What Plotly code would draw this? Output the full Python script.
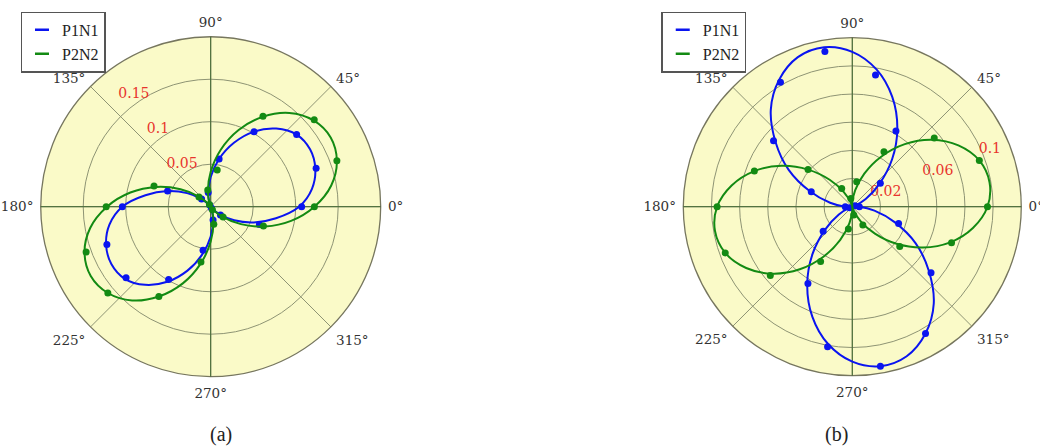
import plotly.graph_objects as go

# Measurement angles (degrees) and fitted-curve sample angles
pt_angles = [0, 20, 40, 60, 80, 100, 120, 140, 160, 180,
             200, 220, 240, 260, 280, 300, 320, 340]
fit_angles = list(range(0, 361, 10))

# Panel (a): measured points
a_p1n1_pts = [0.107, 0.132, 0.132, 0.102, 0.057, 0.017, 0.002, 0.014, 0.054, 0.104,
              0.130, 0.130, 0.099, 0.052, 0.016, 0.002, 0.015, 0.061]
a_p2n2_pts = [0.122, 0.158, 0.159, 0.123, 0.044, 0.020, 0.003, 0.018, 0.071, 0.123,
              0.156, 0.158, 0.122, 0.066, 0.021, 0.004, 0.019, 0.066]

# Panel (a): fitted curves
a_p1n1_fit = [0.104, 0.121, 0.131, 0.135, 0.132, 0.120, 0.102, 0.080, 0.057, 0.035,
              0.016, 0.004, 0.000, 0.003, 0.014, 0.032, 0.054, 0.078,
              0.104, 0.121, 0.131, 0.135, 0.132, 0.120, 0.102, 0.080, 0.057, 0.035,
              0.016, 0.004, 0.000, 0.003, 0.014, 0.032, 0.054, 0.078, 0.104]
a_p2n2_fit = [0.122, 0.144, 0.158, 0.163, 0.158, 0.144, 0.122, 0.096, 0.068, 0.041,
              0.019, 0.005, 0.000, 0.005, 0.019, 0.041, 0.068, 0.096,
              0.122, 0.144, 0.158, 0.163, 0.158, 0.144, 0.122, 0.096, 0.068, 0.041,
              0.019, 0.005, 0.000, 0.005, 0.019, 0.041, 0.068, 0.096, 0.122]

# Panel (b): measured points
b_p1n1_pts = [0.005, 0.002, 0.026, 0.062, 0.095, 0.112, 0.102, 0.073, 0.031, 0.005,
              0.002, 0.027, 0.063, 0.101, 0.115, 0.104, 0.073, 0.035]
b_p2n2_pts = [0.096, 0.096, 0.076, 0.045, 0.018, 0.006, 0.015, 0.041, 0.074, 0.096,
              0.096, 0.076, 0.045, 0.016, 0.006, 0.015, 0.044, 0.075]

# Panel (b): fitted curves
b_p1n1_fit = [0.005, 0.000, 0.002, 0.011, 0.025, 0.044, 0.064, 0.083, 0.099, 0.110,
              0.115, 0.113, 0.104, 0.090, 0.071, 0.052, 0.032, 0.016,
              0.005, 0.000, 0.002, 0.011, 0.025, 0.044, 0.064, 0.083, 0.099, 0.110,
              0.115, 0.113, 0.104, 0.090, 0.071, 0.052, 0.032, 0.016, 0.005]
b_p2n2_fit = [0.096, 0.099, 0.096, 0.087, 0.074, 0.058, 0.041, 0.025, 0.012, 0.003,
              0.000, 0.003, 0.012, 0.025, 0.041, 0.058, 0.074, 0.087,
              0.096, 0.099, 0.096, 0.087, 0.074, 0.058, 0.041, 0.025, 0.012, 0.003,
              0.000, 0.003, 0.012, 0.025, 0.041, 0.058, 0.074, 0.087, 0.096]

# Radial grid rings and their labels
a_rmax = 0.2
a_ticks = [0.05, 0.1, 0.15]
a_ticktext = ["0.05", "0.1", "0.15"]
b_rmax = 0.12
b_ticks = [0.02, 0.04, 0.06, 0.08, 0.1]
b_ticktext = ["0.02", "", "0.06", "", "0.1"]

series_names = ["P1N1", "P2N2"]

BLUE = "#0a14f0"
GREEN = "#138a13"
BG = "#fafac8"
RING = "#8e9474"
AXIS_DARK = "#3f6630"
LABEL_RED = "#e8342c"
SERIF = "DejaVu Serif"
LEG_FONT = "Liberation Serif"

fig = go.Figure()


def add_ring_labels(fig, subplot, ticks, texts, rmax, angle):
    # ring labels sit just outside their ring along a fixed bearing
    pad = rmax * 0.048
    fig.add_trace(go.Scatterpolar(
        r=[t + pad for t in ticks], theta=[angle] * len(ticks), text=texts,
        mode="text", textposition="middle center",
        textfont=dict(family=SERIF, size=14, color=LABEL_RED),
        subplot=subplot, showlegend=False, hoverinfo="skip"))


add_ring_labels(fig, "polar", a_ticks, a_ticktext, a_rmax, 124.5)
add_ring_labels(fig, "polar3", b_ticks, b_ticktext, b_rmax, 22.5)


def add_panel(fig, subplot, legend, fits, pts):
    for name, color, fit, pt in zip(series_names, [BLUE, GREEN], fits, pts):
        fig.add_trace(go.Scatterpolar(
            r=fit, theta=fit_angles, mode="lines", name=name,
            line=dict(color=color, width=2, shape="spline", smoothing=1.0),
            subplot=subplot, showlegend=False, hoverinfo="skip"))
        fig.add_trace(go.Scatterpolar(
            r=pt, theta=pt_angles, mode="markers", name=name,
            marker=dict(color=color, size=7), showlegend=False,
            subplot=subplot))
    # legend keys: short horizontal dashes
    for name, color in zip(series_names, [BLUE, GREEN]):
        fig.add_trace(go.Scatterpolar(
            r=[None], theta=[None], mode="markers", name=name,
            marker=dict(symbol="line-ew", size=10, color=color,
                        line=dict(color=color, width=2.5)),
            subplot=subplot, legend=legend, hoverinfo="skip"))


add_panel(fig, "polar2", "legend", [a_p1n1_fit, a_p2n2_fit], [a_p1n1_pts, a_p2n2_pts])
add_panel(fig, "polar4", "legend2", [b_p1n1_fit, b_p2n2_fit], [b_p1n1_pts, b_p2n2_pts])


def base_polar(dom_x, dom_y, rmax, ticks):
    return dict(
        domain=dict(x=dom_x, y=dom_y),
        bgcolor=BG,
        radialaxis=dict(range=[0, rmax], tickvals=ticks, showticklabels=False,
                        showline=False, ticks="", gridcolor=RING, gridwidth=1),
        angularaxis=dict(rotation=0, direction="counterclockwise",
                         tickvals=[0, 45, 90, 135, 180, 225, 270, 315],
                         ticktext=["0°", "45°", "90°", "135°", "180°", "225°", "270°", "315°"],
                         ticks="outside", ticklen=4, tickcolor="rgba(0,0,0,0)",
                         showline=True, linecolor="#76765e", linewidth=1.3,
                         gridcolor=RING, gridwidth=1,
                         tickfont=dict(family=SERIF, size=13.5, color="#333333")),
    )


def overlay_polar(dom_x, dom_y, rmax):
    return dict(
        domain=dict(x=dom_x, y=dom_y),
        bgcolor="rgba(0,0,0,0)",
        radialaxis=dict(range=[0, rmax], visible=False),
        angularaxis=dict(rotation=0, direction="counterclockwise",
                         tickvals=[0, 90, 180, 270], showticklabels=False,
                         ticks="", showline=False, gridcolor=AXIS_DARK, gridwidth=1.3),
    )


ax_dom = [0.0391, 0.3661]
ay_dom = [0.1592, 0.9180]
bx_dom = [0.6570, 0.9820]
by_dom = [0.1614, 0.9158]

legend_style = dict(xanchor="left", yanchor="top",
                    bordercolor="#555555", borderwidth=1.3, bgcolor="white",
                    font=dict(family=LEG_FONT, size=16, color="#222222"),
                    itemwidth=30, tracegroupgap=0)

fig.update_layout(
    width=1040, height=448,
    margin=dict(l=0, r=0, t=0, b=0),
    paper_bgcolor="white",
    polar=base_polar(ax_dom, ay_dom, a_rmax, a_ticks),
    polar2=overlay_polar(ax_dom, ay_dom, a_rmax),
    polar3=base_polar(bx_dom, by_dom, b_rmax, b_ticks),
    polar4=overlay_polar(bx_dom, by_dom, b_rmax),
    legend=dict(x=0.0199, y=0.974, **legend_style),
    legend2=dict(x=0.636, y=0.974, **legend_style),
    annotations=[
        dict(text="(a)", x=0.2, y=0.031, xref="paper", yref="paper", yanchor="middle",
             showarrow=False, font=dict(family=LEG_FONT, size=20, color="#222222")),
        dict(text="(b)", x=0.8175, y=0.031, xref="paper", yref="paper", yanchor="middle",
             showarrow=False, font=dict(family=LEG_FONT, size=20, color="#222222")),
    ],
)

fig.write_html("out.html")
